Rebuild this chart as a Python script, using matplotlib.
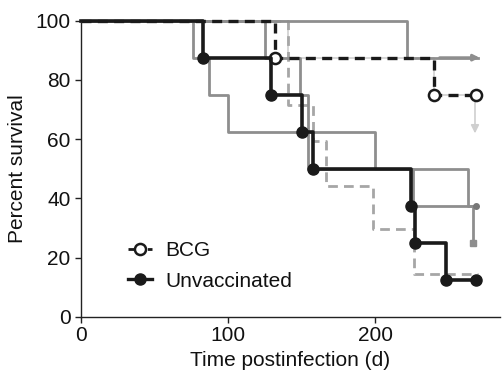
import matplotlib
matplotlib.use("Agg")
import matplotlib.pyplot as plt
from matplotlib.lines import Line2D

plt.rcParams['font.family'] = ['Liberation Sans', 'DejaVu Sans']

# Survival data (days, percent)
unvacc_t = [0, 83, 129, 150, 158, 224.5, 227, 248, 269]
unvacc_s = [100, 87.5, 75, 62.5, 50, 37.5, 25, 12.5, 12.5]

bcg_t = [0, 132, 240, 269]
bcg_s = [100, 87.5, 75, 75]

# background (gray) groups
grayA_t = [0, 76, 87, 100, 200, 226, 266.5]
grayA_s = [100, 87.5, 75, 62.5, 50, 37.5, 25]

grayB_t = [0, 222, 270]
grayB_s = [100, 87.5, 87.5]

grayD_t = [0, 125, 149, 154.5, 263, 269]
grayD_s = [100, 87.5, 75, 50, 37.5, 37.5]

grayDash_t = [0, 141, 158, 166.5, 198.5, 226.5, 270]
grayDash_s = [100, 71.5, 59.5, 44, 29.5, 14.5, 14.5]

light_t = [0, 141, 240, 268]
light_s = [100, 87.5, 75, 75]
light_arrow_end = 61

xticks = [0, 100, 200]
yticks = [0, 20, 40, 60, 80, 100]

BLACK = '#1a1a1a'
MID = '#8e8e8e'
DASHGRAY = '#a6a6a6'
LIGHT = '#cfcfcf'
TEXT = '#111111'

fig = plt.figure(figsize=(5.04, 3.86), dpi=100)
ax = fig.add_axes([0.161, 0.1795, 0.831, 0.767])

# light gray curve with downward arrow
ax.step(light_t, light_s, where='post', color=LIGHT, lw=1.2, clip_on=False, zorder=1)
ax.annotate('', xy=(light_t[-1], light_arrow_end), xytext=(light_t[-1], light_s[-1]),
            arrowprops=dict(arrowstyle='-|>', color=LIGHT, lw=1.2, mutation_scale=12),
            zorder=1)

# gray dashed curve
ax.step(grayDash_t, grayDash_s, where='post', color=DASHGRAY, lw=2.0,
        dashes=(3.5, 2.2), clip_on=False, zorder=2)

# gray solid curves
ax.step(grayA_t, grayA_s, where='post', color=MID, lw=2.0, clip_on=False, zorder=3)
ax.plot(grayA_t[-1], grayA_s[-1], 's', color=MID, ms=5, zorder=3)
ax.step(grayD_t, grayD_s, where='post', color=MID, lw=2.0, clip_on=False, zorder=3)
ax.plot(grayD_t[-1], grayD_s[-1], 'o', color='#777777', ms=4, zorder=3)
ax.step(grayB_t, grayB_s, where='post', color=MID, lw=2.0, clip_on=False, zorder=3)
ax.annotate('', xy=(grayB_t[-1] + 3, grayB_s[-1]), xytext=(grayB_t[-2] + 20, grayB_s[-1]),
            arrowprops=dict(arrowstyle='-|>', color=MID, lw=2.0, mutation_scale=9),
            zorder=3)

# BCG
ax.step(bcg_t, bcg_s, where='post', color=BLACK, lw=2.4, dashes=(3, 1.9),
        clip_on=False, zorder=5)
ax.plot(bcg_t[1:], bcg_s[1:], 'o', mfc='white', mec=BLACK, mew=1.8, ms=8,
        ls='none', zorder=6)

# Unvaccinated
ax.step(unvacc_t, unvacc_s, where='post', color=BLACK, lw=2.6, clip_on=False, zorder=7)
ax.plot(unvacc_t[1:], unvacc_s[1:], 'o', color=BLACK, ms=8, ls='none', zorder=8)

ax.set_xlim(0, 285)
ax.set_ylim(0, 100)
ax.set_xticks(xticks)
ax.set_yticks(yticks)
for side in ['top', 'right']:
    ax.spines[side].set_visible(False)
for side in ['left', 'bottom']:
    ax.spines[side].set_linewidth(1.0)
    ax.spines[side].set_color('#222222')
ax.tick_params(direction='out', length=4, width=1.0, labelsize=15, colors='#222222',
               labelcolor=TEXT)
ax.tick_params(axis='x', pad=3)
ax.set_xlabel('Time postinfection (d)', fontsize=15, labelpad=4, color=TEXT)
ax.set_ylabel('Percent survival', fontsize=15, labelpad=6, color=TEXT)

handles = [
    Line2D([], [], color=BLACK, lw=2.0, dashes=(2, 1.5), marker='o', mfc='white',
           mec=BLACK, mew=1.8, ms=8),
    Line2D([], [], color=BLACK, lw=2.4, marker='o', ms=8),
]
leg = ax.legend(handles, ['BCG', 'Unvaccinated'], loc='center left',
                bbox_to_anchor=(0.113, 0.172), frameon=False, fontsize=15,
                handlelength=1.15, handletextpad=0.6, labelspacing=0.55,
                borderaxespad=0, borderpad=0)
for txt in leg.get_texts():
    txt.set_color(TEXT)

fig.savefig('out.png', dpi=100)
